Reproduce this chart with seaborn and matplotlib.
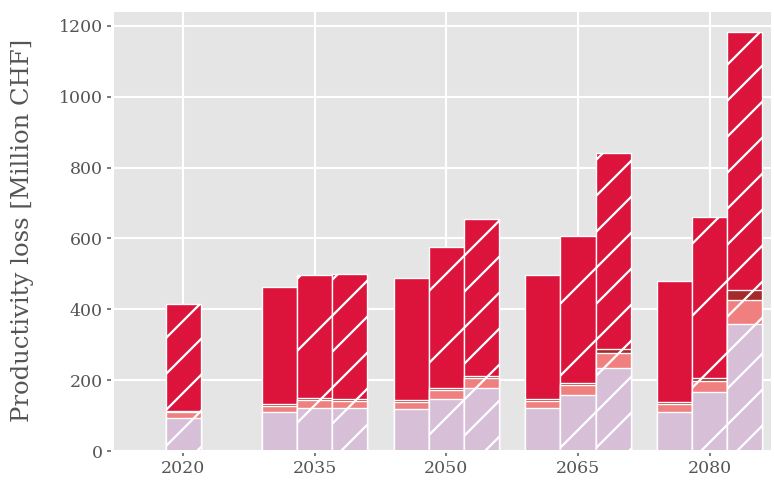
import numpy as np
import pandas as pd
import matplotlib
matplotlib.use("Agg")
import matplotlib.pyplot as plt
import seaborn as sns

# Projection years and three scenario variants per year
years = [2020, 2035, 2050, 2065, 2080]
scenario_hatches = ["", "/", "//"]
scenario_years = [
    [2035, 2050, 2065, 2080],
    [2035, 2050, 2065, 2080],
    [2020, 2035, 2050, 2065, 2080],
]

# Productivity loss components [Million CHF], bottom to top
base_a = [110, 118, 120, 110]
base_b = [122, 146, 157, 167]
base_c = [93, 120, 177, 234, 358]

mid_a = [18, 20, 20, 22]
mid_b = [23, 26, 28, 32]
mid_c = [17, 22, 28, 44, 67]

small_a = [5, 5, 6, 5]
small_b = [5, 5, 6, 6]
small_c = [3, 4, 8, 10, 30]

top_a = [330, 344, 352, 344]
top_b = [346, 400, 416, 455]
top_c = [302, 354, 442, 554, 727]

layer_names = ["base", "mid", "small", "top"]
layer_colors = ["#D8BFD8", "#F08080", "#A52A2A", "#DC143C"]
layer_values = {
    "base": [base_a, base_b, base_c],
    "mid": [mid_a, mid_b, mid_c],
    "small": [small_a, small_b, small_c],
    "top": [top_a, top_b, top_c],
}

plt.style.use("ggplot")
plt.rcParams["font.family"] = ["DejaVu Serif"]
plt.rcParams["hatch.color"] = "white"
plt.rcParams["hatch.linewidth"] = 0.75

DPI = 216
fig = plt.figure(figsize=(774 / DPI, 483 / DPI), dpi=DPI)
ax = fig.add_axes([112 / 774, 32 / 483, 660 / 774, 441 / 483])

bar_step = 4
n_scen = len(scenario_years)
for s, yrs in enumerate(scenario_years):
    # variants sit side by side around each year; a lone bar stays centred
    pos = [y + ((s - 1) * bar_step if y != years[0] else 0) for y in yrs]
    d = pd.DataFrame({"pos": pos})
    for name in layer_names:
        d[name] = layer_values[name][s]
    cum = d[layer_names].cumsum(axis=1)
    spacing = np.diff(sorted(pos)).min()
    # cumulative totals from the top layer down so each layer sits on the next
    for name, color in zip(layer_names[::-1], layer_colors[::-1]):
        d["cum"] = cum[name]
        sns.barplot(data=d, x="pos", y="cum", native_scale=True,
                    width=bar_step / spacing, color=color, saturation=1,
                    errorbar=None, edgecolor="white", linewidth=0.45,
                    hatch=scenario_hatches[s], ax=ax)

ax.set_xlim(2011.9, 2087.1)
ax.set_ylim(0, 1245)
ax.set_xticks(years)
ax.set_xticklabels([str(y) for y in years])
ax.set_yticks([0, 200, 400, 600, 800, 1000, 1200])
ax.set_xlabel("")
ax.set_ylabel("Productivity loss [Million CHF]", fontsize=8.1, color="#555555")
ax.yaxis.set_label_coords(-0.118, 0.5)
ax.tick_params(axis="both", labelsize=5.8, colors="#555555", length=1.6,
               width=0.5, pad=1.5)
ax.grid(True, color="white", linewidth=0.7)
ax.set_axisbelow(True)

fig.savefig("out.png", dpi=DPI)
